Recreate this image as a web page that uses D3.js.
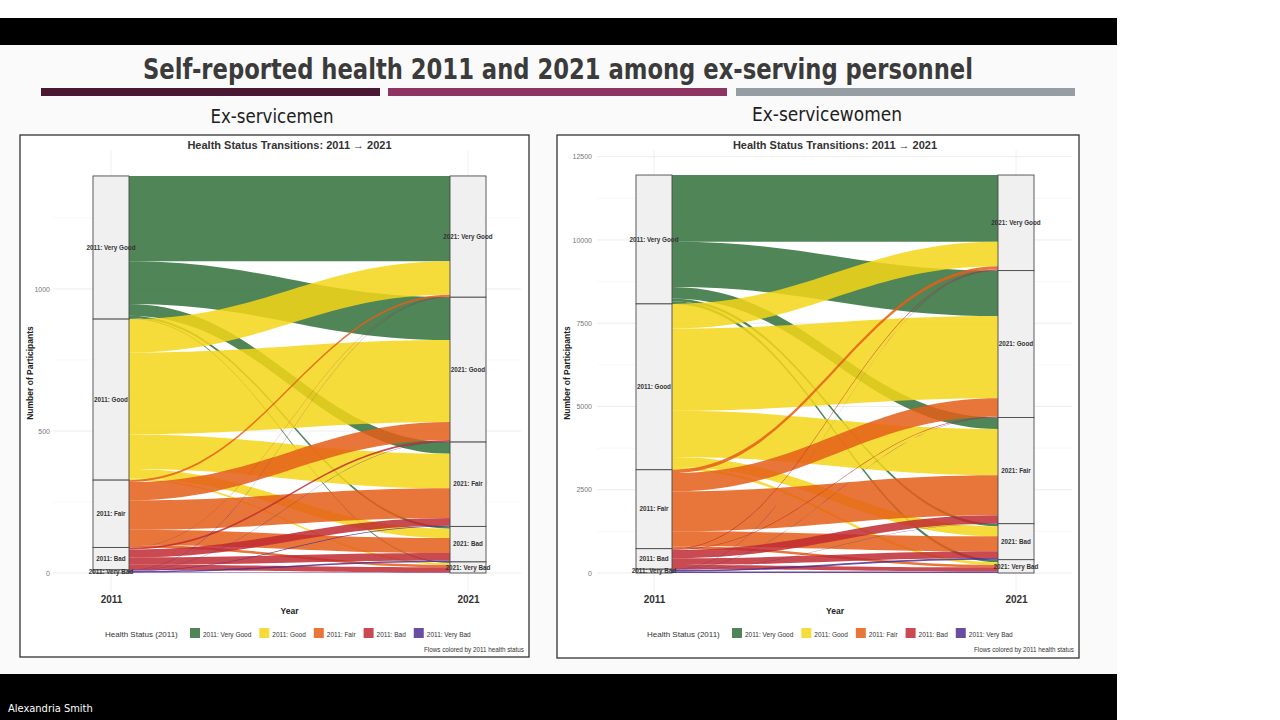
<!DOCTYPE html>
<html>
<head>
<meta charset="utf-8">
<script src="https://cdn.jsdelivr.net/npm/d3@7"></script>
<style>
  body { margin: 0; background: #fff; }
  svg { display: block; }
</style>
</head>
<body>
<script>
// health categories, top of stack first
const statuses = ['Very Good', 'Good', 'Fair', 'Bad', 'Very Bad']
const years = [2011, 2021]
const statusColors = ['#30703a', '#f5d618', '#e45e18', '#c02a31', '#502d8f']

// flows: rows = 2011 status, columns = 2021 status
const menFlows = [
  [300, 151, 41, 8, 4],
  [118, 288, 122, 33, 6],
  [7, 64, 104, 53, 9],
  [1, 6, 28, 26, 18],
  [1, 1, 2, 5, 2]
]
const womenFlows = [
  [2000, 1365, 345, 80, 80],
  [740, 2470, 1390, 300, 80],
  [100, 550, 1200, 450, 70],
  [20, 20, 250, 200, 125],
  [10, 5, 5, 50, 45]
]
const menTicks = [0, 500, 1000]
const menMinor = [250, 750, 1250]
const womenTicks = [0, 2500, 5000, 7500, 10000, 12500]
const womenMinor = [1250, 3750, 6250, 8750, 11250]

const svg = d3.select('body').append('svg')
  .attr('width', 1280)
  .attr('height', 720)

// slide frame
svg.append('rect').attr('width', 1280).attr('height', 720).attr('fill', '#fff')
svg.append('rect').attr('x', 0).attr('y', 45).attr('width', 1117).attr('height', 629).attr('fill', '#fafafa')
svg.append('rect').attr('x', 0).attr('y', 18).attr('width', 1117).attr('height', 27).attr('fill', '#000')
svg.append('rect').attr('x', 0).attr('y', 674).attr('width', 1117).attr('height', 46).attr('fill', '#000')
svg.append('text')
  .attr('x', 8).attr('y', 712)
  .attr('fill', '#fff')
  .style('font-family', '"Liberation Sans Narrow", "DejaVu Sans Condensed", sans-serif')
  .style('font-size', '11px')
  .text('Alexandria Smith')

svg.append('text')
  .attr('x', 558).attr('y', 79)
  .attr('text-anchor', 'middle')
  .attr('fill', '#3b3b3b')
  .attr('textLength', 830)
  .attr('lengthAdjust', 'spacingAndGlyphs')
  .style('font-family', '"Liberation Sans Narrow", "DejaVu Sans Condensed", sans-serif')
  .style('font-weight', 'bold')
  .style('font-size', '28px')
  .text('Self-reported health 2011 and 2021 among ex-serving personnel')

const bars = [[41, '#4a1832'], [388, '#8e3462'], [736, '#979ea3']]
svg.selectAll('rect.bar')
  .data(bars)
  .enter().append('rect')
  .attr('class', 'bar')
  .attr('x', d => d[0]).attr('y', 88)
  .attr('width', 339).attr('height', 8)
  .attr('fill', d => d[1])

const panels = [
  { name: 'Ex-servicemen', flows: menFlows, ticks: menTicks, minor: menMinor, ref: 1000, refY: 289,
    x: 20, w: 509, h: 522, sx: [111, 468], subX: 272, subY: 123, subW: 123,
    gridX: [53, 521], tickX: 50, legendX: 105, ylabX: 33 },
  { name: 'Ex-servicewomen', flows: womenFlows, ticks: womenTicks, minor: womenMinor, ref: 12500, refY: 156.7,
    x: 557, w: 522, h: 523, sx: [654, 1016], subX: 827, subY: 121, subW: 150,
    gridX: [597, 1072], tickX: 592, legendX: 647, ylabX: 570 }
]

const font = '"Liberation Sans", Arial, sans-serif'
const sw = 36
const baseY = 573

panels.forEach(p => {
  const g = svg.append('g')

  g.append('text')
    .attr('x', p.subX).attr('y', p.subY)
    .attr('text-anchor', 'middle')
    .attr('fill', '#1e1e1e')
    .attr('textLength', p.subW)
    .attr('lengthAdjust', 'spacingAndGlyphs')
    .style('font-family', '"Liberation Sans Narrow", "DejaVu Sans Condensed", sans-serif')
    .style('font-size', '20px')
    .text(p.name)

  g.append('rect')
    .attr('x', p.x).attr('y', 135)
    .attr('width', p.w).attr('height', p.h)
    .attr('fill', '#fff')
    .attr('stroke', '#333')
    .attr('stroke-width', 1.3)

  const y = d3.scaleLinear().domain([0, p.ref]).range([baseY, p.refY])
  const x = d3.scaleOrdinal().domain(years).range(p.sx)

  // grid
  g.selectAll('line.minor')
    .data(p.minor)
    .enter().append('line')
    .attr('x1', p.gridX[0]).attr('x2', p.gridX[1])
    .attr('y1', d => y(d)).attr('y2', d => y(d))
    .attr('stroke', '#f3f3f3').attr('stroke-width', 0.6)
  g.selectAll('line.major')
    .data(p.ticks)
    .enter().append('line')
    .attr('x1', p.gridX[0]).attr('x2', p.gridX[1])
    .attr('y1', d => y(d)).attr('y2', d => y(d))
    .attr('stroke', '#e8e8e8').attr('stroke-width', 0.8)
  g.selectAll('line.vgrid')
    .data(years)
    .enter().append('line')
    .attr('x1', d => x(d)).attr('x2', d => x(d))
    .attr('y1', 150).attr('y2', 592)
    .attr('stroke', '#ececec').attr('stroke-width', 0.8)

  // y axis
  const yAxis = d3.axisLeft(y).tickValues(p.ticks).tickFormat(d3.format('d')).tickSize(0).tickPadding(0)
  const ya = g.append('g').attr('transform', `translate(${p.tickX},0)`).call(yAxis)
  ya.select('.domain').remove()
  ya.selectAll('text')
    .attr('fill', '#777')
    .style('font-family', font)
    .style('font-size', '7px')

  g.append('text')
    .attr('transform', `translate(${p.ylabX},373) rotate(-90)`)
    .attr('text-anchor', 'middle')
    .attr('fill', '#222')
    .style('font-family', font)
    .style('font-weight', 'bold')
    .style('font-size', '8.5px')
    .text('Number of Participants')

  // x axis
  const xAxis = d3.axisBottom(x).tickSize(0).tickPadding(0)
  const xa = g.append('g').attr('transform', 'translate(0,596)').call(xAxis)
  xa.select('.domain').remove()
  xa.selectAll('text')
    .attr('fill', '#333')
    .style('font-family', font)
    .style('font-weight', 'bold')
    .style('font-size', '10px')

  const cx = (p.sx[0] + p.sx[1]) / 2
  g.append('text')
    .attr('x', cx).attr('y', 614)
    .attr('text-anchor', 'middle')
    .attr('fill', '#222')
    .style('font-family', font)
    .style('font-weight', 'bold')
    .style('font-size', '8.5px')
    .text('Year')

  g.append('text')
    .attr('x', cx).attr('y', 149)
    .attr('text-anchor', 'middle')
    .attr('fill', '#333')
    .style('font-family', font)
    .style('font-weight', 'bold')
    .style('font-size', '11px')
    .text('Health Status Transitions: 2011 \u2192 2021')

  // stacking
  const rowTot = p.flows.map(r => d3.sum(r))
  const colTot = statuses.map((s, j) => d3.sum(p.flows, r => r[j]))
  const total = d3.sum(rowTot)
  const stack = tots => {
    let top = total
    return tots.map(v => { const s = { top, bot: top - v }; top -= v; return s })
  }
  const leftStrata = stack(rowTot)
  const rightStrata = stack(colTot)

  const links = []
  const leftCur = leftStrata.map(s => s.top)
  const rightCur = rightStrata.map(s => s.top)
  // right side ordered by origin, left side by destination
  const rightPos = []
  statuses.forEach((s, i) => {
    rightPos[i] = []
    statuses.forEach((t, j) => {
      rightPos[i][j] = rightCur[j]
    })
    statuses.forEach((t, j) => { rightCur[j] -= p.flows[i][j] })
  })
  statuses.forEach((s, i) => {
    statuses.forEach((t, j) => {
      const v = p.flows[i][j]
      links.push({ i, j, v, l0: leftCur[i], r0: rightPos[i][j] })
      leftCur[i] -= v
    })
  })

  const x0 = p.sx[0] + sw / 2
  const x1 = p.sx[1] - sw / 2
  const k = (x1 - x0) * 0.42
  const flowPath = d => {
    const a = y(d.l0), b = y(d.l0 - d.v), c = y(d.r0), e = y(d.r0 - d.v)
    return `M${x0},${a}C${x0 + k},${a} ${x1 - k},${c} ${x1},${c}` +
      `L${x1},${e}C${x1 - k},${e} ${x0 + k},${b} ${x0},${b}Z`
  }

  g.selectAll('path.flow')
    .data(links.filter(d => d.v > 0))
    .enter().append('path')
    .attr('class', 'flow')
    .attr('d', flowPath)
    .attr('fill', d => statusColors[d.i])
    .attr('fill-opacity', 0.85)

  // strata
  const strata = []
  leftStrata.forEach((s, i) => strata.push({ year: 2011, label: '2011: ' + statuses[i], ...s }))
  rightStrata.forEach((s, i) => strata.push({ year: 2021, label: '2021: ' + statuses[i], ...s }))

  g.selectAll('rect.stratum')
    .data(strata)
    .enter().append('rect')
    .attr('class', 'stratum')
    .attr('x', d => x(d.year) - sw / 2)
    .attr('y', d => y(d.top))
    .attr('width', sw)
    .attr('height', d => y(d.bot) - y(d.top))
    .attr('fill', '#f0f0f0')
    .attr('stroke', '#4a4a4a')
    .attr('stroke-width', 0.9)

  g.selectAll('text.stratum')
    .data(strata)
    .enter().append('text')
    .attr('class', 'stratum')
    .attr('x', d => x(d.year))
    .attr('y', d => (y(d.top) + y(d.bot)) / 2 + 2.2)
    .attr('text-anchor', 'middle')
    .attr('fill', '#333')
    .style('font-family', font)
    .style('font-weight', 'bold')
    .style('font-size', '6.3px')
    .text(d => d.label)

  // legend
  const lg = g.append('g').attr('transform', `translate(${p.legendX},637)`)
  lg.append('text')
    .attr('fill', '#333')
    .style('font-family', font)
    .style('font-size', '8px')
    .text('Health Status (2011)')
  let lx = 85
  statuses.forEach((s, i) => {
    lg.append('rect')
      .attr('x', lx).attr('y', -9)
      .attr('width', 10).attr('height', 10)
      .attr('fill', statusColors[i])
      .attr('fill-opacity', 0.85)
    const t = lg.append('text')
      .attr('x', lx + 13).attr('y', 0)
      .attr('fill', '#333')
      .style('font-family', font)
      .style('font-size', '6.5px')
      .text('2011: ' + s)
    lx += 13 + t.node().getComputedTextLength() + 8
  })

  g.append('text')
    .attr('x', p.x + p.w - 5).attr('y', 652)
    .attr('text-anchor', 'end')
    .attr('fill', '#333')
    .style('font-family', font)
    .style('font-size', '6.3px')
    .text('Flows colored by 2011 health status')
})
</script>
</body>
</html>
